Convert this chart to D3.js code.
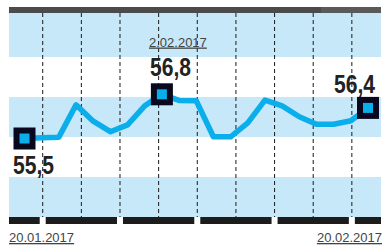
<!DOCTYPE html>
<html>
<head>
<meta charset="utf-8">
<script src="https://cdn.jsdelivr.net/npm/d3@7"></script>
<style>
  body { margin: 0; background: #fff; }
  svg { display: block; }
</style>
</head>
<body>
<div class="chart"></div>
<script>
// data (one value per trading point)
var values = [55.50, 55.52, 55.54, 56.49, 56.01, 55.70, 55.90, 56.46, 56.80, 56.62, 56.61,
  55.55, 55.55, 55.96, 56.63, 56.46, 56.14, 55.92, 55.92, 56.02, 56.40];

// highlighted points
var markIndex = [0, 8, 20];
var markLabels = ["55,5", "56,8", "56,4"];

// date labels
var startLabel = "20.01.2017";
var endLabel = "20.02.2017";
var midLabel = "2.02.2017";

// dashed grid positions (in point index units)
var gridTicks = [1.06, 3.31, 5.56, 7.81, 10.06, 12.31, 14.56, 16.81, 19.06];

var svgWidth = 383;
var svgHeight = 246;

var plot = { left: 9, right: 381, top: 13, bottom: 217 };

var svg = d3.select(".chart")
  .append("svg")
  .attr("width", svgWidth)
  .attr("height", svgHeight);

// scales
var xScale = d3.scaleLinear()
  .domain([0, values.length - 1])
  .range([24.5, 368]);

var yScale = d3.scaleLinear()
  .domain([55.5, 56.8])
  .range([138.5, 94.3]);

// background bands: blue / white alternating, 40px each from the bottom
var bandH = 40;
svg.append("rect")
  .attr("x", plot.left)
  .attr("y", plot.top)
  .attr("width", plot.right - plot.left)
  .attr("height", plot.bottom - plot.top)
  .attr("fill", "#c6e8f8");

svg.selectAll(".band")
  .data([1, 3])
  .enter()
  .append("rect")
  .attr("class", "band")
  .attr("x", plot.left)
  .attr("y", d => plot.bottom - bandH * (d + 1))
  .attr("width", plot.right - plot.left)
  .attr("height", bandH)
  .attr("fill", "#ffffff");

// dashed vertical grid
svg.selectAll(".grid")
  .data(gridTicks)
  .enter()
  .append("line")
  .attr("class", "grid")
  .attr("x1", d => xScale(d))
  .attr("x2", d => xScale(d))
  .attr("y1", plot.top)
  .attr("y2", plot.bottom)
  .attr("stroke", "#1a1a1a")
  .attr("stroke-width", 1)
  .attr("stroke-dasharray", "4,3");

// top bar
svg.append("rect")
  .attr("x", plot.left)
  .attr("y", 7)
  .attr("width", plot.right - plot.left)
  .attr("height", 6)
  .attr("fill", "#4b4b4b");
svg.append("rect")
  .attr("x", 321)
  .attr("y", 7)
  .attr("width", plot.right - 321)
  .attr("height", 6)
  .attr("fill", "#5a5a5a");

// bottom bar with white gaps at every second grid line
svg.append("rect")
  .attr("x", plot.left)
  .attr("y", plot.bottom)
  .attr("width", plot.right - plot.left)
  .attr("height", 7)
  .attr("fill", "#1c1c1c");

svg.selectAll(".gap")
  .data(gridTicks.filter((d, i) => i % 2 === 0))
  .enter()
  .append("rect")
  .attr("class", "gap")
  .attr("x", d => xScale(d) - 3)
  .attr("y", plot.bottom)
  .attr("width", 6)
  .attr("height", 7)
  .attr("fill", "#ffffff");

// the line
var line = d3.line()
  .x((d, i) => xScale(i))
  .y(d => yScale(d));

svg.append("path")
  .datum(values)
  .attr("d", line)
  .attr("fill", "none")
  .attr("stroke", "#0aaeea")
  .attr("stroke-width", 5.5)
  .attr("stroke-linejoin", "round");

// markers
var marks = svg.selectAll(".mark")
  .data(markIndex)
  .enter()
  .append("g")
  .attr("class", "mark")
  .attr("transform", d => `translate(${xScale(d)}, ${yScale(values[d])})`);

marks.append("rect")
  .attr("x", -11)
  .attr("y", -11)
  .attr("width", 22)
  .attr("height", 22)
  .attr("fill", "#08081f");

marks.append("rect")
  .attr("x", -5)
  .attr("y", -5)
  .attr("width", 10)
  .attr("height", 10)
  .attr("fill", "#0aaeea");

// value labels
var labelPos = [
  { x: 13, y: 174, anchor: "start" },
  { x: 150, y: 76, anchor: "start" },
  { x: 375, y: 92.5, anchor: "end" }
];

svg.selectAll(".val")
  .data(markLabels)
  .enter()
  .append("text")
  .attr("class", "val")
  .attr("x", (d, i) => labelPos[i].x)
  .attr("y", (d, i) => labelPos[i].y)
  .attr("text-anchor", (d, i) => labelPos[i].anchor)
  .attr("textLength", 41)
  .attr("lengthAdjust", "spacingAndGlyphs")
  .style("font-family", "'Liberation Sans', Arial, sans-serif")
  .style("font-size", "25px")
  .style("font-weight", "bold")
  .attr("fill", "#222")
  .text(d => d);

// date labels
function dateText(txt, x, y, anchor) {
  svg.append("text")
    .attr("x", x)
    .attr("y", y)
    .attr("text-anchor", anchor)
    .style("font-family", "'Liberation Sans', Arial, sans-serif")
    .style("font-size", "13px")
    .style("text-decoration", "underline")
    .attr("fill", "#444")
    .text(txt);
}

dateText(midLabel, 149, 46.5, "start");
dateText(startLabel, 9, 242, "start");
dateText(endLabel, 382, 242, "end");
</script>
</body>
</html>
